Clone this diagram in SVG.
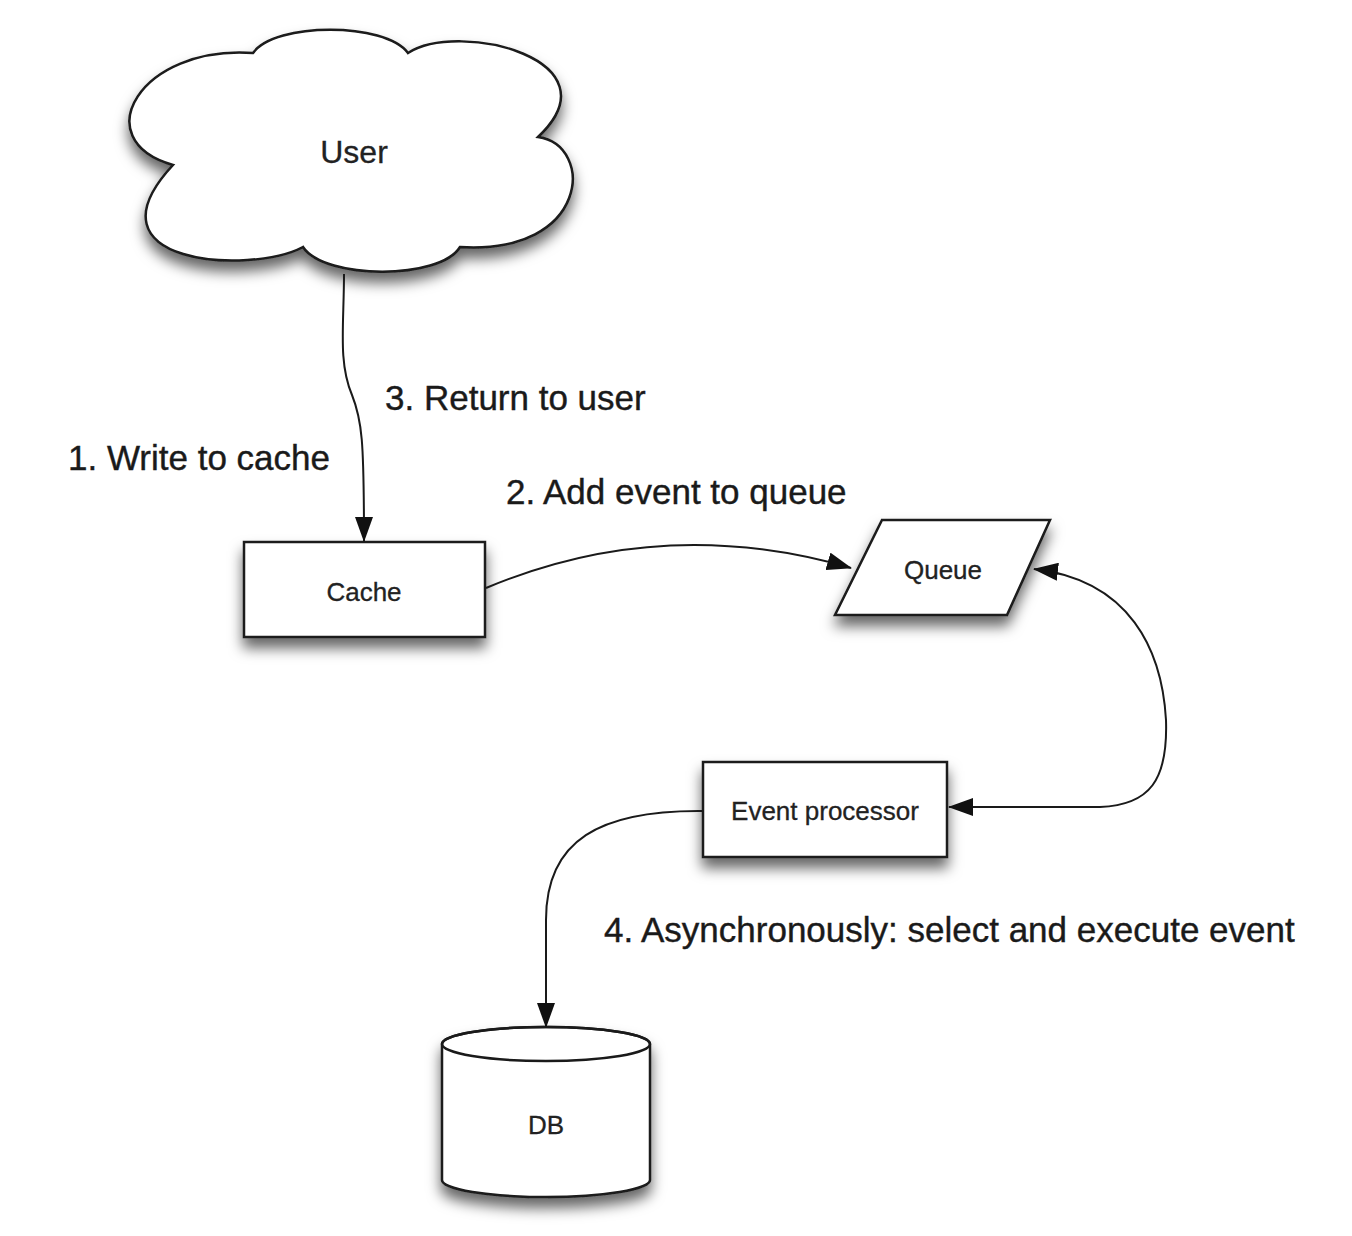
<svg xmlns="http://www.w3.org/2000/svg" width="1352" height="1236" viewBox="0 0 1352 1236">
<defs>
<filter id="shadow" x="-20%" y="-20%" width="140%" height="160%">
<feDropShadow dx="0" dy="10" stdDeviation="7" flood-color="#000" flood-opacity="0.6"/>
</filter>
<marker id="arrow" markerUnits="userSpaceOnUse" markerWidth="26" markerHeight="18" refX="24" refY="9" orient="auto-start-reverse" viewBox="0 0 26 18">
<path d="M0,0 L25,9 L0,18 Z" fill="#111"/>
</marker>
</defs>
<style>
.shape{fill:#fff;stroke:#1a1a1a;stroke-width:2.5;filter:url(#shadow)}
.conn{fill:none;stroke:#1a1a1a;stroke-width:2}
.node-label{font-family:"Liberation Sans",Arial,sans-serif;font-size:26px;fill:#222;text-anchor:middle;stroke:#222;stroke-width:0.3}
.edge-label{font-family:"Liberation Sans",Arial,sans-serif;font-size:35px;fill:#1a1a1a;stroke:#1a1a1a;stroke-width:0.4}
</style>
<rect width="1352" height="1236" fill="#fff"/>

<g id="user">
<path class="shape" d="M253,53 C275,22 385,22 408,53 C460,20 620,60 538,137 C595,145 590,255 460,247 C440,280 325,280 303,247 C250,275 80,265 173,165 C85,140 140,45 253,53 Z"/>
<text class="node-label" x="354" y="163" style="font-size:32px">User</text>
</g>

<g id="cache">
<rect class="shape" x="244" y="542" width="241" height="95"/>
<text class="node-label" x="364" y="601">Cache</text>
</g>

<g id="queue">
<path class="shape" d="M882,520 L1050,520 L1007,615 L835,615 Z"/>
<text class="node-label" x="943" y="579">Queue</text>
</g>

<g id="event-processor">
<rect class="shape" x="703" y="762" width="244" height="95"/>
<text class="node-label" x="825" y="820">Event processor</text>
</g>

<g id="db">
<path class="shape" d="M442,1044 A104,17 0 0 1 650,1044 L650,1180 A104,17 0 0 1 442,1180 Z"/>
<ellipse cx="546" cy="1044" rx="104" ry="17" fill="none" stroke="#1a1a1a" stroke-width="2.5"/>
<text class="node-label" x="546" y="1134">DB</text>
</g>

<g id="connectors">
<path class="conn" d="M344,274 C344,325 338,362 352,395 C362,420 364,440 364,541" marker-end="url(#arrow)"/>
<path class="conn" d="M486,588 C600,540 720,530 851,568" marker-end="url(#arrow)"/>
<path class="conn" d="M949,807 L1100,807 C1150,805 1168,780 1166,720 C1162,650 1130,580 1034,569" marker-start="url(#arrow)" marker-end="url(#arrow)"/>
<path class="conn" d="M703,811 C600,810 546,840 546,920 L546,1027" marker-end="url(#arrow)"/>
</g>

<g id="labels">
<text class="edge-label" x="385" y="410">3. Return to user</text>
<text class="edge-label" x="68" y="470">1. Write to cache</text>
<text class="edge-label" x="506" y="504">2. Add event to queue</text>
<text class="edge-label" x="604" y="942">4. Asynchronously: select and execute event</text>
</g>
</svg>
